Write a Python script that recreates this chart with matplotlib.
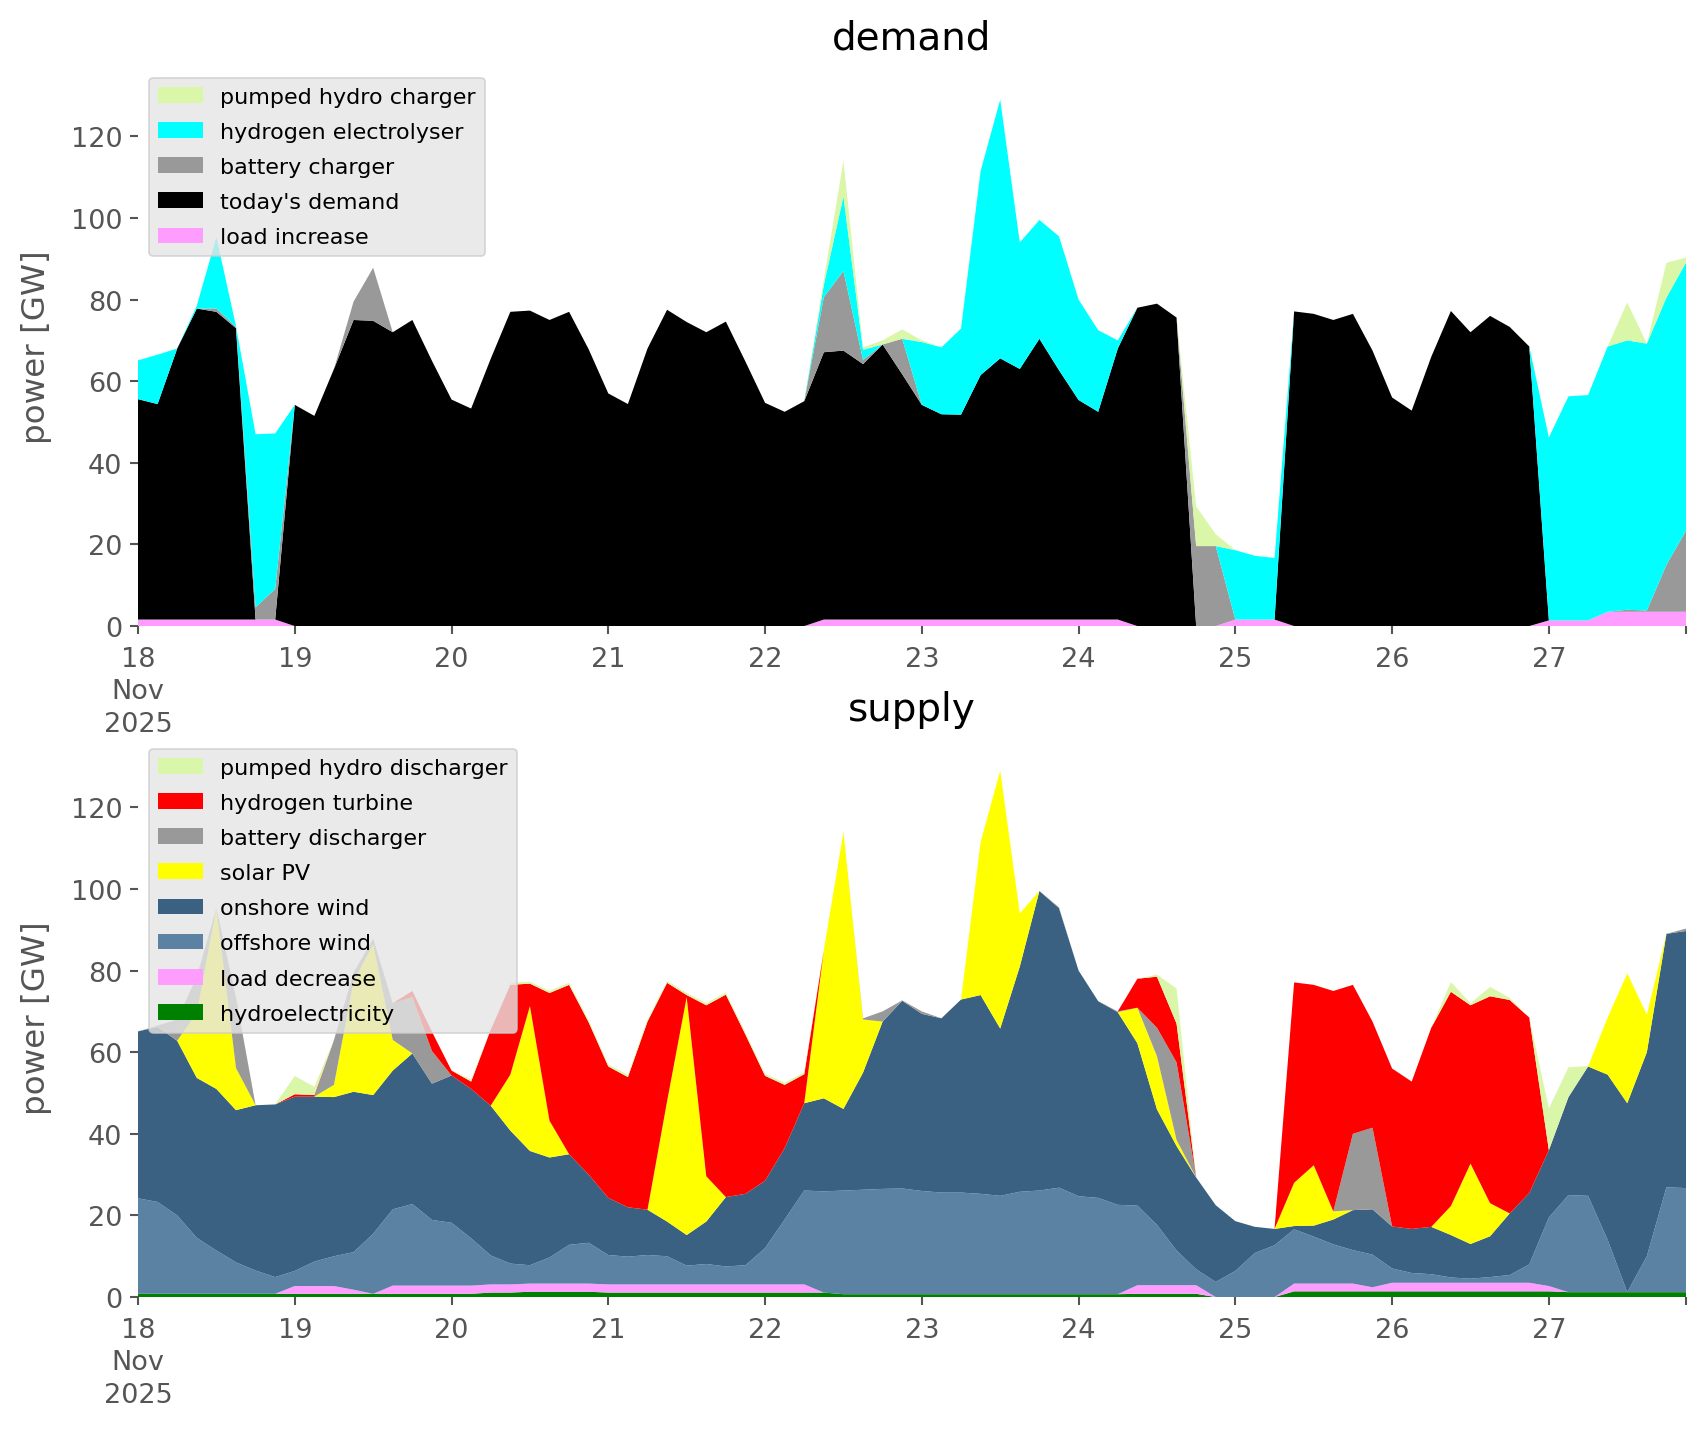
import numpy as np
import matplotlib

matplotlib.use('Agg')

import matplotlib.pyplot as plt

# 3-hourly values from 18 Nov 2025 00:00, one row per day (GW)
START_DAY = 18
STEPS_PER_DAY = 8
DAY_LABELS = ['18\nNov\n2025', '19', '20', '21', '22', '23', '24', '25', '26', '27']

# ---- demand side ----
load_increase = [
    1.6, 1.6, 1.6, 1.6, 1.6, 1.6, 1.6, 1.6,
    0, 0, 0, 0, 0, 0, 0, 0,
    0, 0, 0, 0, 0, 0, 0, 0,
    0, 0, 0, 0, 0, 0, 0, 0,
    0, 0, 0, 1.6, 1.6, 1.6, 1.6, 1.6,
    1.6, 1.6, 1.6, 1.6, 1.6, 1.6, 1.6, 1.6,
    1.6, 1.6, 1.6, 0, 0, 0, 0, 0,
    1.6, 1.6, 1.6, 0, 0, 0, 0, 0,
    0, 0, 0, 0, 0, 0, 0, 0,
    1.4, 1.4, 1.4, 3.5, 3.5, 3.5, 3.5, 3.5,
]
todays_demand = [
    54.0, 52.8, 66.4, 76.2, 75.4, 71.4, 0, 0,
    54.2, 51.5, 63.0, 75.0, 74.8, 72.0, 75.0, 65.0,
    55.5, 53.3, 65.5, 77.0, 77.3, 75.0, 77.0, 67.8,
    57.0, 54.4, 68.0, 77.5, 74.5, 72.0, 74.6, 64.8,
    54.7, 52.5, 55.1, 65.5, 65.9, 62.6, 67.4, 60.1,
    52.6, 50.3, 50.2, 59.9, 64.0, 61.4, 68.8, 61.1,
    53.8, 50.9, 66.4, 78.0, 79.0, 75.6, 0, 0,
    0, 0, 0, 77.1, 76.5, 75.0, 76.5, 67.5,
    56.0, 52.8, 66.0, 77.2, 72.0, 76.0, 73.3, 68.5,
    0, 0, 0, 0, 0, 0, 0, 0,
]
battery_charger = [
    0, 0, 0, 0, 0.8, 0.3, 3.0, 7.5,
    0, 0, 0, 4.5, 13.0, 0, 0, 0,
    0, 0, 0, 0, 0, 0, 0, 0,
    0, 0, 0, 0, 0, 0, 0, 0,
    0, 0, 0, 13.5, 19.5, 1.0, 0, 8.7,
    0, 0, 0, 0, 0, 0, 0, 0,
    0, 0, 0, 0, 0, 0, 19.6, 19.6,
    0, 0, 0, 0, 0, 0, 0, 0,
    0, 0, 0, 0, 0, 0, 0, 0,
    0, 0, 0, 0, 0.5, 0.3, 11.5, 19.9,
]
hydrogen_electrolyser = [
    9.5, 12.1, 0, 0.7, 17.5, 0.2, 42.4, 38.1,
    0, 0, 0, 0, 0, 0, 0, 0,
    0, 0, 0, 0, 0, 0, 0, 0,
    0, 0, 0, 0, 0, 0, 0, 0,
    0, 0, 0, 3.0, 18.3, 2.5, 0, 0,
    15.4, 16.4, 21.1, 50.0, 63.4, 31.0, 29.1, 32.8,
    24.6, 20.0, 2.0, 0, 0, 0, 0, 0,
    17.0, 15.6, 15.1, 0, 0, 0, 0, 0,
    0, 0, 0, 0, 0, 0, 0, 0,
    44.8, 54.9, 55.2, 65.0, 66.0, 65.4, 65.5, 65.7,
]
pumped_hydro_charger = [
    0, 0, 0, 0, 0, 0, 0, 0,
    0, 0, 0, 0, 0, 0, 0, 0,
    0, 0, 0, 0, 0, 0, 0, 0,
    0, 0, 0, 0, 0, 0, 0, 0,
    0, 0, 0, 1.4, 8.7, 0.6, 1.0, 2.3,
    0.4, 0, 0, 0, 0, 0, 0, 0,
    0, 0, 0, 0, 0, 0, 9.7, 2.9,
    0, 0, 0, 0, 0, 0, 0, 0,
    0, 0, 0, 0, 0, 0, 0, 0,
    0, 0, 0, 0, 9.3, 0, 8.5, 1.2,
]

# ---- supply side ----
hydroelectricity = [
    0.8, 0.8, 0.8, 0.8, 0.8, 0.8, 0.8, 0.8,
    0.8, 0.8, 0.8, 0.8, 0.8, 0.8, 0.8, 0.8,
    0.8, 0.8, 1.1, 1.1, 1.3, 1.3, 1.3, 1.3,
    1.1, 1.1, 1.1, 1.1, 1.1, 1.1, 1.1, 1.1,
    1.1, 1.1, 1.1, 1.1, 0.7, 0.7, 0.7, 0.7,
    0.7, 0.7, 0.7, 0.7, 0.7, 0.7, 0.7, 0.7,
    0.7, 0.7, 0.7, 0.8, 0.8, 0.8, 0.8, 0,
    0, 0, 0, 1.4, 1.4, 1.4, 1.4, 1.4,
    1.4, 1.4, 1.4, 1.4, 1.4, 1.4, 1.4, 1.4,
    1.4, 1.2, 1.2, 1.2, 1.2, 1.2, 1.2, 1.2,
]
load_decrease = [
    0, 0, 0, 0, 0, 0, 0, 0,
    1.9, 1.9, 1.9, 1.0, 0, 2.0, 2.0, 2.0,
    2.0, 2.0, 2.0, 2.0, 2.0, 2.0, 2.0, 2.0,
    2.0, 2.0, 2.0, 2.0, 2.0, 2.0, 2.0, 2.0,
    2.0, 2.0, 2.0, 0, 0, 0, 0, 0,
    0, 0, 0, 0, 0, 0, 0, 0,
    0, 0, 0, 2.1, 2.1, 2.1, 2.1, 0,
    0, 0, 0, 1.9, 1.9, 1.9, 1.9, 1.0,
    2.1, 2.1, 2.1, 2.1, 2.1, 2.1, 2.1, 2.1,
    1.3, 0, 0, 0, 0, 0, 0, 0,
]
offshore_wind = [
    23.4, 22.5, 19.2, 13.7, 10.6, 7.7, 5.7, 4.1,
    3.7, 6.0, 7.3, 9.2, 14.7, 18.7, 20.0, 16.1,
    15.4, 11.6, 7.1, 5.1, 4.5, 6.4, 9.5, 10.0,
    7.2, 6.8, 7.2, 6.9, 4.6, 5.0, 4.4, 4.7,
    8.9, 15.9, 23.0, 24.8, 25.4, 25.6, 25.8, 25.9,
    25.3, 24.9, 24.9, 24.6, 24.1, 25.1, 25.4, 26.1,
    24.0, 23.6, 21.9, 19.5, 14.8, 8.5, 3.9, 3.7,
    6.4, 10.8, 12.7, 13.3, 11.5, 9.6, 8.2, 8.0,
    3.5, 2.4, 2.1, 1.3, 1.0, 1.4, 1.9, 4.5,
    16.8, 23.8, 23.6, 12.8, 0.0, 8.8, 25.7, 25.5,
]
onshore_wind = [
    40.9, 42.9, 42.8, 39.2, 39.6, 37.3, 40.5, 42.3,
    42.7, 40.4, 39.0, 39.3, 34.0, 34.0, 36.9, 33.4,
    36.1, 36.6, 36.7, 32.6, 28.0, 24.5, 22.2, 16.7,
    14.0, 12.1, 11.1, 8.5, 7.5, 10.4, 17.0, 17.5,
    16.5, 17.5, 21.4, 22.8, 20.0, 28.7, 41.0, 46.0,
    43.4, 42.7, 47.3, 48.7, 41.0, 55.2, 73.4, 68.5,
    55.3, 48.2, 47.2, 39.8, 28.3, 25.6, 22.5, 18.8,
    12.2, 6.4, 4.0, 0.8, 2.7, 6.1, 9.8, 11.1,
    10.3, 10.8, 11.6, 10.4, 8.5, 10.0, 15.1, 17.5,
    16.5, 24.0, 31.7, 40.5, 46.3, 50.0, 62.1, 63.0,
]
solar_pv = [
    0, 0, 0, 16.0, 44.3, 10.3, 0, 0,
    0, 0, 3.0, 27.0, 37.0, 7.5, 0, 0,
    0, 0, 0, 13.7, 35.5, 9.0, 0, 0,
    0, 0, 0, 29.5, 58.3, 11.1, 0, 0,
    0, 0, 0, 36.3, 67.9, 13.0, 0, 0,
    0, 0, 0, 37.5, 63.2, 13.0, 0, 0,
    0, 0, 0, 8.7, 13.0, 1.5, 0, 0,
    0, 0, 0, 10.6, 14.8, 2.0, 0, 0,
    0, 0, 0, 7.1, 19.7, 8.1, 0, 0,
    0, 0, 0, 14.0, 31.8, 9.2, 0, 0,
]
battery_discharger = [
    0, 0.3, 5.2, 8.8, 0, 17.4, 0, 0,
    0, 0, 11.0, 2.2, 1.3, 9.0, 13.8, 8.0,
    0, 0, 0, 0, 0, 0, 0, 0,
    0, 0, 0, 0, 0, 0, 0, 0,
    0, 0, 0, 0, 0, 0.3, 2.5, 0.1,
    0.6, 0, 0, 0, 0, 0, 0, 0.2,
    0, 0, 0.2, 0, 7.0, 19.0, 0, 0,
    0, 0, 0, 0, 0, 0, 18.7, 20.0,
    0, 0, 0, 0, 0, 0, 0, 0,
    0, 0, 0, 0, 0, 0, 0, 0.6,
]
hydrogen_turbine = [
    0, 0, 0, 0, 0, 0, 0, 0,
    0.6, 0.4, 0, 0, 0, 0, 1.5, 4.7,
    1.2, 1.8, 18.6, 22.0, 5.5, 31.3, 41.5, 37.3,
    32.2, 31.9, 46.1, 29.0, 0.5, 41.9, 49.6, 39.0,
    25.7, 15.5, 7.1, 0, 0, 0, 0, 0,
    0, 0, 0, 0, 0, 0, 0, 0,
    0, 0, 0, 7.1, 12.5, 9.5, 0, 0,
    0, 0, 0, 49.1, 44.2, 54.0, 36.5, 26.0,
    38.7, 36.1, 48.8, 52.5, 38.8, 50.7, 52.3, 43.0,
    0, 0, 0, 0, 0, 0, 0, 0,
]
pumped_hydro_discharger = [
    0, 0, 0, 0, 0, 0, 0, 0,
    4.5, 2.0, 0, 0, 0, 0, 0, 0,
    0, 0.5, 0, 0.5, 0.5, 0.5, 0.5, 0.5,
    0.5, 0.5, 0.5, 0.5, 0.5, 0.5, 0.5, 0.5,
    0.5, 0.5, 0.5, 0, 0, 0, 0, 0,
    0, 0, 0, 0, 0, 0, 0, 0,
    0, 0, 0, 0, 0.5, 8.6, 0, 0,
    0, 0, 0, 0, 0, 0, 0, 0,
    0, 0, 0, 2.4, 0.5, 2.3, 0.5, 0,
    10.2, 7.3, 0.1, 0, 0, 0, 0, 0,
]

# bottom of the stack first
DEMAND = [
    ('load increase', load_increase, '#ff9cff'),
    ("today's demand", todays_demand, '#000000'),
    ('battery charger', battery_charger, '#999999'),
    ('hydrogen electrolyser', hydrogen_electrolyser, '#00ffff'),
    ('pumped hydro charger', pumped_hydro_charger, '#daf6a8'),
]
SUPPLY = [
    ('hydroelectricity', hydroelectricity, '#008000'),
    ('load decrease', load_decrease, '#ff9cff'),
    ('offshore wind', offshore_wind, '#5b82a3'),
    ('onshore wind', onshore_wind, '#3b6182'),
    ('solar PV', solar_pv, '#ffff00'),
    ('battery discharger', battery_discharger, '#999999'),
    ('hydrogen turbine', hydrogen_turbine, '#ff0000'),
    ('pumped hydro discharger', pumped_hydro_discharger, '#daf6a8'),
]

GREY = '#555555'
YMAX = 137.1


def _panel(ax, series, title, x):
    ax.stackplot(x, [s[1] for s in series], labels=[s[0] for s in series],
                 colors=[s[2] for s in series], linewidth=0)
    ax.set_xlim(x[0], x[-1])
    ax.set_ylim(0, YMAX)
    for sp in ax.spines.values():
        sp.set_visible(False)

    days = np.arange(START_DAY, START_DAY + len(DAY_LABELS))
    ax.set_xticks(days)
    ax.set_xticklabels(DAY_LABELS, linespacing=1.32)
    ax.set_xticks([x[-1]], minor=True)
    ax.set_yticks(np.arange(0, 121, 20))
    ax.tick_params(axis='both', which='both', colors=GREY, labelsize=13,
                   length=4, width=1)
    ax.tick_params(axis='x', which='both', pad=5.5)
    ax.set_ylabel('power [GW]', fontsize=15.6, color=GREY, labelpad=9)
    ax.set_title(title, fontsize=18.7, pad=8.5)

    handles, labels = ax.get_legend_handles_labels()
    leg = ax.legend(handles[::-1], labels[::-1], loc='upper left',
                    fontsize=10.7, labelspacing=0.68, framealpha=0.8,
                    facecolor='#e5e5e5', edgecolor='#cccccc')
    leg.get_frame().set_linewidth(0.8)


def main():
    n = len(todays_demand)
    x = START_DAY + np.arange(n) / STEPS_PER_DAY

    fig = plt.figure(figsize=(1706 / 150, 1431 / 150), dpi=150)
    ax_d = fig.add_axes([0.0809, 0.5618, 0.9074, 0.3910])
    ax_s = fig.add_axes([0.0809, 0.0929, 0.9074, 0.3910])

    _panel(ax_d, DEMAND, 'demand', x)
    _panel(ax_s, SUPPLY, 'supply', x)

    fig.savefig('out.png', dpi=150)
    plt.close(fig)


if __name__ == '__main__':
    main()
